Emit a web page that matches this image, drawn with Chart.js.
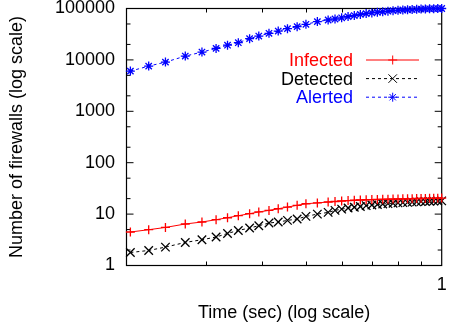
<!DOCTYPE html>
<html><head><meta charset="utf-8">
<script src="https://cdn.jsdelivr.net/npm/chart.js@4.4.1/dist/chart.umd.min.js"></script>
<style>html,body{margin:0;padding:0;background:#fff;}canvas{display:block;}</style>
</head><body>
<canvas id="c" width="449" height="331"></canvas>
<script>
const timeSec = [0.204,0.224,0.244,0.270,0.294,0.316,0.335,0.354,0.375,0.393,0.414,0.434,0.455,0.478,0.50,0.53,0.56,
  0.58,0.60,0.62,0.64,0.66,0.68,0.70,0.72,0.74,0.76,0.78,0.80,0.82,0.84,0.86,0.88,0.90,0.92,0.94,0.96,0.98,1.00];
const infected = [4.48,4.97,5.5,6.42,7.02,7.78,8.5,9.3,10.2,11.0,11.8,12.7,13.7,14.8,15.9,16.5,17.2,
  17.6,18.0,18.3,18.6,18.8,19.0,19.2,19.3,19.4,19.5,19.6,19.7,19.8,19.9,20.0,20.1,20.1,20.2,20.3,20.3,20.4,20.5];
const detected = [1.79,1.96,2.28,2.81,3.17,3.58,4.2,4.81,5.36,5.94,6.71,7.0,7.54,8.02,9.02,10.0,10.8,
  11.8,12.5,13.1,13.6,14.1,14.6,15.0,15.4,15.7,16.0,16.3,16.5,16.7,16.9,17.1,17.3,17.5,17.6,17.8,17.9,18.0,18.1];
const alerted = [6050,7570,9060,11860,14190,16750,19300,21640,25880,29100,32860,36400,40550,44360,49200,55580,59700,
  62500,66000,69500,73000,76500,79500,82000,84500,86500,88500,90500,92000,93500,94500,95500,96500,97500,98200,98800,99300,99700,100000];
const yTickValues = [1,10,100,1000,10000,100000];
const yMinorTickValues = [2,5,20,50,200,500,2000,5000,20000,50000];
const xTickValues = [1];
const xMinorTickValues = [0.3,0.4,0.5,0.6,0.7,0.8,0.9];
const seriesNames = ['Infected','Detected','Alerted'];
const seriesColors = ['#ff0000','#000000','#0000ff'];
const xTitle = 'Time (sec) (log scale)';
const yTitle = 'Number of firewalls (log scale)';

const FONT = '"Liberation Sans", Arial, Helvetica, sans-serif';
Chart.defaults.font.family = FONT;
Chart.defaults.font.size = 18;
Chart.defaults.color = '#000';

const styles = [
  {pointStyle:'cross', radius:4.5, dash:[]},
  {pointStyle:'crossRot', radius:6, dash:[3,3]},
  {pointStyle:'star', radius:4.5, dash:[3,3]}
];
const seriesData = [infected, detected, alerted];
const datasets = seriesNames.map((n,i)=>({
  label:n,
  data: timeSec.map((t,k)=>({x:t, y:seriesData[i][k]})),
  borderColor:seriesColors[i], backgroundColor:seriesColors[i],
  borderWidth:1, borderDash:styles[i].dash,
  pointStyle:styles[i].pointStyle, pointRadius:styles[i].radius, pointHoverRadius:styles[i].radius,
  pointBorderWidth:1.3, pointBorderColor:seriesColors[i], pointBackgroundColor:seriesColors[i],
  tension:0, fill:false, clip:false, showLine:true
}));

const decor = {
  id:'decor',
  beforeDatasetsDraw(chart){
    const ctx=chart.ctx, a=chart.chartArea, xs=chart.scales.x, ys=chart.scales.y;
    ctx.save();
    ctx.strokeStyle='#000'; ctx.lineWidth=1; ctx.setLineDash([]);
    ctx.beginPath();
    yTickValues.forEach(v=>{const y=ys.getPixelForValue(v); ctx.moveTo(a.left,y); ctx.lineTo(a.left+7,y); ctx.moveTo(a.right,y); ctx.lineTo(a.right-7,y);});
    yMinorTickValues.forEach(v=>{const y=ys.getPixelForValue(v); ctx.moveTo(a.left,y); ctx.lineTo(a.left+4,y); ctx.moveTo(a.right,y); ctx.lineTo(a.right-4,y);});
    xMinorTickValues.forEach(v=>{const x=Math.round(xs.getPixelForValue(v))+0.5; ctx.moveTo(x,a.bottom); ctx.lineTo(x,a.bottom-4); ctx.moveTo(x,a.top); ctx.lineTo(x,a.top+4);});
    ctx.stroke();
    ctx.lineWidth=1.2;
    ctx.strokeRect(a.left,a.top,a.right-a.left,a.bottom-a.top);
    ctx.restore();
  },
  afterDraw(chart){
    const ctx=chart.ctx;
    const ly=[60,78.6,97.2];
    ctx.save();
    ctx.font='18px '+FONT; ctx.textAlign='right'; ctx.textBaseline='middle';
    seriesNames.forEach((n,i)=>{
      const y=ly[i];
      ctx.fillStyle=seriesColors[i]; ctx.strokeStyle=seriesColors[i];
      ctx.fillText(n,353,y+1);
      ctx.lineWidth=1; ctx.setLineDash(styles[i].dash);
      ctx.beginPath(); ctx.moveTo(366,y); ctx.lineTo(419,y); ctx.stroke();
      ctx.setLineDash([]);
      Chart.helpers.drawPoint(ctx,{pointStyle:styles[i].pointStyle,radius:styles[i].radius,borderWidth:1.3,rotation:0},392.7,y);
    });
    ctx.restore();
  }
};

new Chart(document.getElementById('c'), {
  type:'line',
  data:{datasets},
  plugins:[decor],
  options:{
    responsive:false, animation:false,
    layout:{padding:{top:8.5,right:4.5,left:0,bottom:0}},
    plugins:{legend:{display:false}, tooltip:{enabled:false}},
    scales:{
      x:{type:'logarithmic', min:0.2, max:1,
        grid:{display:false, drawTicks:false}, border:{display:false},
        afterBuildTicks(s){ s.ticks = xTickValues.map(v=>({value:v})); },
        ticks:{padding:11, maxRotation:0, autoSkip:false, callback:(v)=>String(v), font:{size:18,lineHeight:1.0}},
        title:{display:true, text:xTitle, font:{size:18}, padding:{top:0,bottom:7}},
        afterFit(s){ s.height=65.5; s.paddingRight=0; s.paddingLeft=0; }
      },
      y:{type:'logarithmic', min:1, max:100000,
        grid:{display:false, drawTicks:false}, border:{display:false},
        afterBuildTicks(s){ s.ticks = yTickValues.map(v=>({value:v})); },
        ticks:{padding:11.5, autoSkip:false, callback:(v)=>String(v), font:{size:18,lineHeight:1.0}},
        title:{display:true, text:yTitle, font:{size:18}, padding:{top:6.5,bottom:0}},
        afterFit(s){ s.width=126.5; s.paddingTop=0; s.paddingBottom=0; }
      }
    }
  }
});
</script>
</body></html>
